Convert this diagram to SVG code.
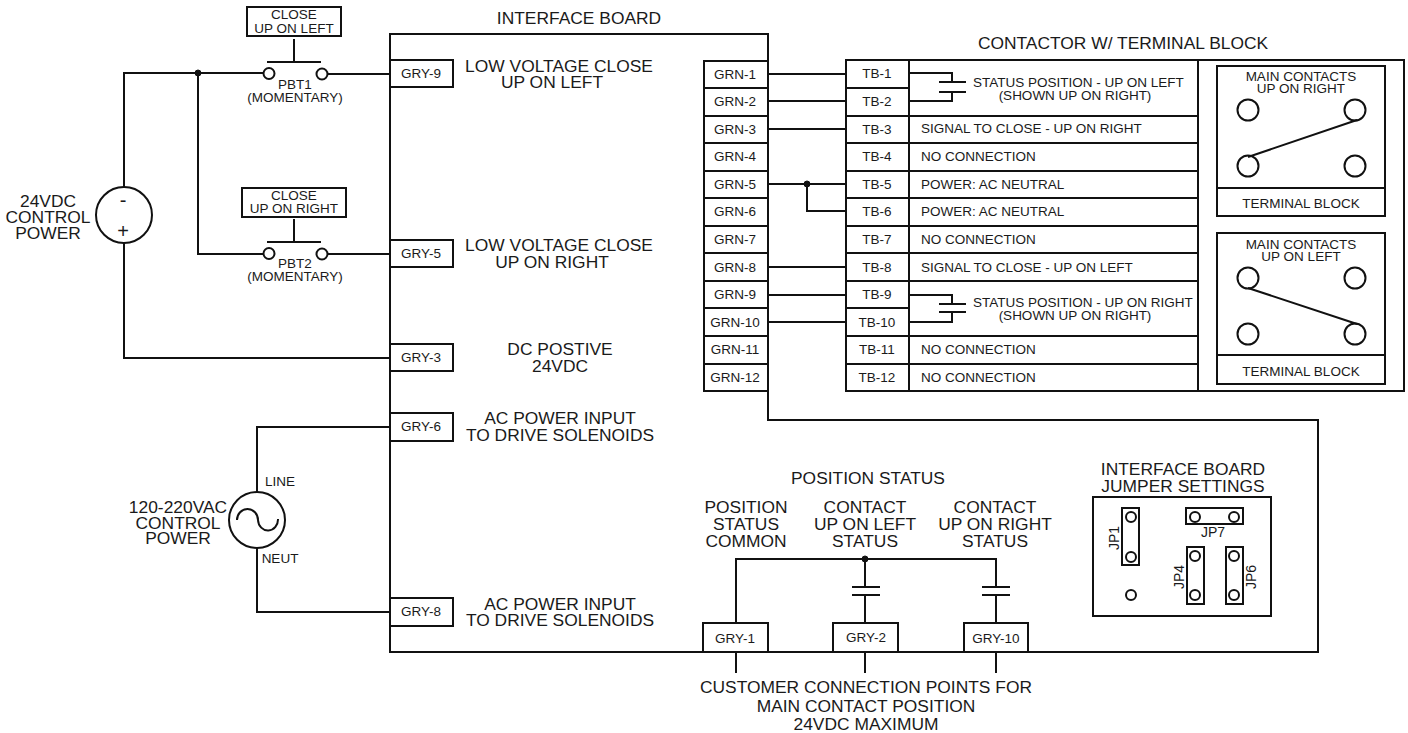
<svg xmlns="http://www.w3.org/2000/svg" width="1408" height="733" viewBox="0 0 1408 733">
<style>
text{font-family:"Liberation Sans",Arial,sans-serif;fill:#1a1a1a;text-anchor:middle}
.l{font-size:17.4px}.s{font-size:13.5px}.n{font-size:13.5px}.j{font-size:14px}.p{font-size:20px}.st{text-anchor:start}
.w,.b,.c{fill:none;stroke:#111;stroke-width:2}
.b{fill:#fff}
.d{fill:#111;stroke:#111}
</style>
<rect width="1408" height="733" fill="#fff"/>
<g id="interface-board"><path class="w" d="M390 34H768V420H1318V652H390Z"/>
<text class="l" x="579" y="24">INTERFACE BOARD</text>
<text class="l" x="559" y="72">LOW VOLTAGE CLOSE</text><text class="l" x="552" y="88">UP ON LEFT</text>
<text class="l" x="559" y="251">LOW VOLTAGE CLOSE</text><text class="l" x="552" y="268">UP ON RIGHT</text>
<text class="l" x="560" y="355">DC POSTIVE</text><text class="l" x="560" y="372">24VDC</text>
<text class="l" x="560" y="424">AC POWER INPUT</text><text class="l" x="560" y="441">TO DRIVE SOLENOIDS</text>
<text class="l" x="560" y="610">AC POWER INPUT</text><text class="l" x="560" y="626">TO DRIVE SOLENOIDS</text>
<text class="l" x="868" y="484">POSITION STATUS</text>
<text class="l" x="746" y="513">POSITION</text><text class="l" x="746" y="530">STATUS</text><text class="l" x="746" y="547">COMMON</text>
<text class="l" x="865" y="513">CONTACT</text><text class="l" x="865" y="530">UP ON LEFT</text><text class="l" x="865" y="547">STATUS</text>
<text class="l" x="995" y="513">CONTACT</text><text class="l" x="995" y="530">UP ON RIGHT</text><text class="l" x="995" y="547">STATUS</text>
<text class="l" x="866" y="693">CUSTOMER CONNECTION POINTS FOR</text><text class="l" x="866" y="712">MAIN CONTACT POSITION</text><text class="l" x="866" y="730">24VDC MAXIMUM</text>
</g>
<g id="connectors">
<path class="c" d="M124 188V73H264M327 74H390M198 73V254H264M327 254H390M124 243V358H390"/>
<path class="c" d="M294 39V62M294 219V242"/>
<path class="c" d="M257 492V427H390M257 548V612H390"/>
<path class="c" d="M768 74H846M768 101H846M768 129H846M768 184H846M807 184V211H846M768 267H846M768 295H846M768 322H846"/>
<path class="c" d="M909 73H952V82M939 82H966M939 92H966M952 92V101H909"/>
<path class="c" d="M909 295H952V304M939 304H966M939 312H966M952 312V322H909"/>
<path class="c" d="M736 623V559H996V587M982 587H1010M982 595H1010M996 595V623M865 559V587M852 587H880M852 595H880M865 595V623"/>
<path class="c" d="M736 652V673M865 652V673M996 652V673"/>
<circle class="d" cx="198" cy="73" r="3"/><circle class="d" cx="807" cy="184" r="3"/><circle class="d" cx="865" cy="559" r="3"/>
</g>
<g id="pbt1"><rect class="b" x="247" y="7" width="94" height="29"/><text class="s" x="294" y="19">CLOSE</text><text class="s" x="294" y="33">UP ON LEFT</text>
<path class="c" d="M267 62H321"/><circle class="b" cx="269" cy="73.500" r="5.500"/><circle class="b" cx="322" cy="74" r="5.500"/>
<text class="s" x="295" y="89">PBT1</text><text class="s" x="295" y="102">(MOMENTARY)</text></g>
<g id="pbt2"><rect class="b" x="242" y="188" width="104" height="29"/><text class="s" x="294" y="200">CLOSE</text><text class="s" x="294" y="213">UP ON RIGHT</text>
<path class="c" d="M267 242H321"/><circle class="b" cx="269" cy="253.500" r="5.500"/><circle class="b" cx="322" cy="254" r="5.500"/>
<text class="s" x="295" y="268">PBT2</text><text class="s" x="295" y="281">(MOMENTARY)</text></g>
<g id="dc-source"><circle class="b" cx="124" cy="215" r="28"/><text class="p" x="123" y="207">-</text><text class="p" x="123" y="238">+</text>
<text class="l" x="48" y="207">24VDC</text><text class="l" x="48" y="223">CONTROL</text><text class="l" x="48" y="239">POWER</text></g>
<g id="ac-source"><circle class="b" cx="257" cy="520" r="28"/><path class="c" d="M237 520A10.500 11 0 0 1 258 520A10 11 0 0 0 278 519"/>
<text class="s" x="280" y="486">LINE</text><text class="s" x="280" y="563">NEUT</text>
<text class="l" x="178" y="513">120-220VAC</text><text class="l" x="178" y="529">CONTROL</text><text class="l" x="178" y="544">POWER</text></g>
<g id="gry-9"><rect class="b" x="390" y="60" width="63" height="27"/><text class="n" x="421" y="78">GRY-9</text></g>
<g id="gry-5"><rect class="b" x="390" y="240" width="63" height="27"/><text class="n" x="421" y="258">GRY-5</text></g>
<g id="gry-3"><rect class="b" x="390" y="344" width="63" height="27"/><text class="n" x="421" y="362">GRY-3</text></g>
<g id="gry-6"><rect class="b" x="390" y="413" width="63" height="28"/><text class="n" x="421" y="431">GRY-6</text></g>
<g id="gry-8"><rect class="b" x="390" y="598" width="63" height="28"/><text class="n" x="421" y="616">GRY-8</text></g>
<g id="gry-1"><rect class="b" x="703" y="623" width="65" height="29"/><text class="n" x="735" y="643">GRY-1</text></g>
<g id="gry-2"><rect class="b" x="833" y="623" width="65" height="29"/><text class="n" x="866" y="642">GRY-2</text></g>
<g id="gry-10"><rect class="b" x="964" y="623" width="64" height="29"/><text class="n" x="996" y="643">GRY-10</text></g>
<g id="grn-block"><path class="w" d="M704 61H768V391H704ZM704 88H768M704 116H768M704 143H768M704 171H768M704 198H768M704 226H768M704 253H768M704 281H768M704 308H768M704 336H768M704 364H768"/>
<text class="n" x="735" y="79">GRN-1</text><text class="n" x="735" y="106">GRN-2</text><text class="n" x="735" y="134">GRN-3</text><text class="n" x="735" y="161">GRN-4</text><text class="n" x="735" y="189">GRN-5</text><text class="n" x="735" y="216">GRN-6</text><text class="n" x="735" y="244">GRN-7</text><text class="n" x="735" y="272">GRN-8</text><text class="n" x="735" y="299">GRN-9</text><text class="n" x="735" y="327">GRN-10</text><text class="n" x="735" y="354">GRN-11</text><text class="n" x="735" y="382">GRN-12</text></g>
<g id="contactor"><text class="l" x="1123" y="49">CONTACTOR W/ TERMINAL BLOCK</text>
<path class="w" d="M846 60H1404V391H846ZM909 60V391M1198 60V391M846 88H909M846 116H1198M846 143H1198M846 171H1198M846 198H1198M846 226H1198M846 253H1198M846 281H1198M846 308H909M846 336H1198M846 364H1198"/>
<text class="n" x="877" y="78">TB-1</text><text class="n" x="877" y="106">TB-2</text><text class="n" x="877" y="134">TB-3</text><text class="n" x="877" y="161">TB-4</text><text class="n" x="877" y="189">TB-5</text><text class="n" x="877" y="216">TB-6</text><text class="n" x="877" y="244">TB-7</text><text class="n" x="877" y="272">TB-8</text><text class="n" x="877" y="299">TB-9</text><text class="n" x="877" y="327">TB-10</text><text class="n" x="877" y="354">TB-11</text><text class="n" x="877" y="382">TB-12</text>
<text class="n st" x="973" y="87">STATUS POSITION - UP ON LEFT</text><text class="n" x="1075" y="100">(SHOWN UP ON RIGHT)</text>
<text class="n st" x="921" y="133">SIGNAL TO CLOSE - UP ON RIGHT</text><text class="n st" x="921" y="161">NO CONNECTION</text><text class="n st" x="921" y="189">POWER: AC NEUTRAL</text><text class="n st" x="921" y="216">POWER: AC NEUTRAL</text><text class="n st" x="921" y="244">NO CONNECTION</text><text class="n st" x="921" y="272">SIGNAL TO CLOSE - UP ON LEFT</text>
<text class="n st" x="973" y="307">STATUS POSITION - UP ON RIGHT</text><text class="n" x="1075" y="320">(SHOWN UP ON RIGHT)</text>
<text class="n st" x="921" y="354">NO CONNECTION</text><text class="n st" x="921" y="382">NO CONNECTION</text></g>
<g id="main-contacts-right"><path class="w" d="M1217 66H1385V216H1217ZM1217 188H1385M1248 157L1357 120"/>
<circle class="c" cx="1248" cy="110" r="10.500"/><circle class="c" cx="1355" cy="110" r="10.500"/><circle class="c" cx="1248" cy="166" r="10.500"/><circle class="c" cx="1355" cy="166" r="10.500"/>
<text class="n" x="1301" y="81">MAIN CONTACTS</text><text class="n" x="1301" y="93">UP ON RIGHT</text><text class="n" x="1301" y="208">TERMINAL BLOCK</text></g>
<g id="main-contacts-left"><path class="w" d="M1217 233H1385V384H1217ZM1217 355H1385M1248 288L1357 324"/>
<circle class="c" cx="1248" cy="278" r="10.500"/><circle class="c" cx="1355" cy="278" r="10.500"/><circle class="c" cx="1248" cy="334" r="10.500"/><circle class="c" cx="1355" cy="334" r="10.500"/>
<text class="n" x="1301" y="249">MAIN CONTACTS</text><text class="n" x="1301" y="261">UP ON LEFT</text><text class="n" x="1301" y="376">TERMINAL BLOCK</text></g>
<g id="jumpers"><text class="l" x="1183" y="475">INTERFACE BOARD</text><text class="l" x="1183" y="492">JUMPER SETTINGS</text>
<path class="w" d="M1093 497H1271V616H1093Z"/>
<rect class="c" x="1122" y="508" width="17" height="57"/><rect class="c" x="1186" y="508" width="57" height="16"/><rect class="c" x="1187" y="547" width="17" height="57"/><rect class="c" x="1226" y="547" width="17" height="57"/>
<circle class="c" cx="1131" cy="517" r="5"/><circle class="c" cx="1131" cy="557" r="5"/><circle class="c" cx="1131" cy="595" r="5"/><circle class="c" cx="1195" cy="517" r="5"/><circle class="c" cx="1234" cy="517" r="5"/><circle class="c" cx="1195" cy="556" r="5"/><circle class="c" cx="1195" cy="595" r="5"/><circle class="c" cx="1234" cy="556" r="5"/><circle class="c" cx="1234" cy="595" r="5"/>
<text class="j" x="1213" y="537">JP7</text>
<text class="j" transform="translate(1119 538) rotate(-90)">JP1</text><text class="j" transform="translate(1184 577) rotate(-90)">JP4</text><text class="j" transform="translate(1256 577) rotate(-90)">JP6</text></g>
</svg>
